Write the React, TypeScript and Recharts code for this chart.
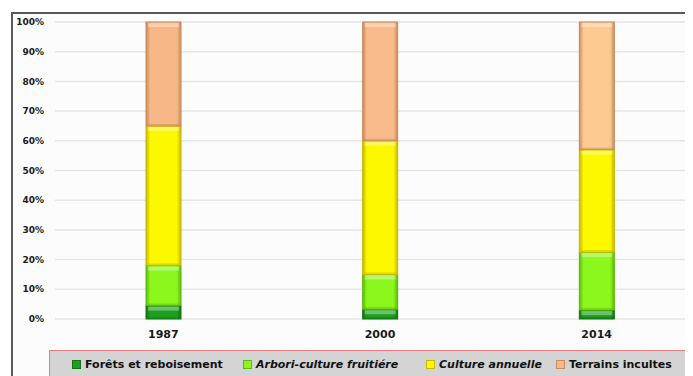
import { BarChart, Bar, XAxis, YAxis, CartesianGrid, Cell } from 'recharts';

const years = ['1987', '2000', '2014'];
const forets = [4.5, 3.3, 3];
const arbori = [13.5, 11.7, 19.5];
const cultureAnnuelle = [47, 45, 34.5];
const terrainsIncultes = [35, 40, 43];
const yTicks = [0, 10, 20, 30, 40, 50, 60, 70, 80, 90, 100];

const series = [
  { key: 'forets', name: 'Forêts et reboisement', color: '#1f9f1f', edge: '#127512', italic: false },
  { key: 'arbori', name: 'Arbori-culture fruitiére', color: '#8cf71c', edge: '#5fb80e', italic: true },
  { key: 'culture', name: 'Culture annuelle', color: '#fbf800', edge: '#c9b800', italic: true },
  { key: 'terrains', name: 'Terrains incultes', color: '#f9b98a', edge: '#c98a5e', italic: false },
];
// the 2014 terrain bar is drawn a bit lighter in the original
const terrainColors = ['#f8b787', '#f9bb8b', '#fdca92'];

const data = years.map((year, i) => ({
  year,
  forets: forets[i],
  arbori: arbori[i],
  culture: cultureAnnuelle[i],
  terrains: terrainsIncultes[i],
}));

const font = '"DejaVu Sans", Verdana, sans-serif';

const BevelBar = (props: any) => {
  const { x, y, width, height, fill, edge } = props;
  if (!height || height <= 0) return null;
  const hl = Math.min(4, height / 2);
  return (
    <g>
      <rect x={x} y={y} width={width} height={height} fill={fill} stroke={edge} strokeWidth={1} />
      <rect x={x + 2} y={y + 1} width={width - 4} height={hl} fill="#ffffff" fillOpacity={0.35} />
      <rect x={x + 1} y={y + height - 2} width={width - 2} height={1.5} fill={edge} fillOpacity={0.5} />
    </g>
  );
};

const legendLeft = [72, 243, 426, 556];

export default function App() {
  return (
    <div style={{ position: 'relative', left: -8, top: -8, width: 693, height: 376, overflow: 'hidden', background: '#ffffff' }}>
      <div
        style={{
          position: 'absolute',
          left: 11,
          top: 12,
          width: 720,
          height: 420,
          borderLeft: '2px solid #5a5a5a',
          borderTop: '2px solid #5a5a5a',
          background: '#fcfcfc',
        }}
      />
      <div style={{ position: 'absolute', left: 0, top: 0 }}>
        <BarChart
          width={720}
          height={376}
          data={data}
          margin={{ top: 22, right: 15, left: 12, bottom: 27 }}
          barSize={35}
        >
          <defs>
            {series.map((s) => (
              <linearGradient key={s.key} id={`g-${s.key}`} x1="0" y1="0" x2="1" y2="0">
                <stop offset="0" stopColor={s.edge} />
                <stop offset="0.12" stopColor={s.color} />
                <stop offset="0.88" stopColor={s.color} />
                <stop offset="1" stopColor={s.edge} />
              </linearGradient>
            ))}
            {terrainColors.map((c, i) => (
              <linearGradient key={i} id={`g-terrains-${i}`} x1="0" y1="0" x2="1" y2="0">
                <stop offset="0" stopColor="#c98a5e" />
                <stop offset="0.12" stopColor={c} />
                <stop offset="0.88" stopColor={c} />
                <stop offset="1" stopColor="#c98a5e" />
              </linearGradient>
            ))}
          </defs>
          <CartesianGrid vertical={false} stroke="#e6e6e6" strokeWidth={1.5} />
          <XAxis
            dataKey="year"
            axisLine={false}
            tickLine={false}
            height={30}
            tickMargin={5}
            tick={{ fontFamily: font, fontSize: 11, fontWeight: 'bold', fill: '#1a1a1a' }}
          />
          <YAxis
            domain={[0, 100]}
            ticks={yTicks}
            width={43}
            axisLine={false}
            tickLine={false}
            tickMargin={5}
            interval={0}
            tickFormatter={(v: number) => `${v}%`}
            tick={{ fontFamily: font, fontSize: 9, fontWeight: 'bold', fill: '#1a1a1a' }}
          />
          {series.map((s) => (
            <Bar
              key={s.key}
              dataKey={s.key}
              name={s.name}
              stackId="a"
              fill={`url(#g-${s.key})`}
              isAnimationActive={false}
              shape={(p: any) => <BevelBar {...p} edge={s.edge} />}
            >
              {s.key === 'terrains'
                ? years.map((y, i) => <Cell key={y} fill={`url(#g-terrains-${i})`} />)
                : null}
            </Bar>
          ))}
        </BarChart>
      </div>
      <div
        style={{
          position: 'absolute',
          left: 49,
          top: 350,
          width: 637,
          height: 40,
          background: '#d4d4d4',
          border: '1.5px solid #e87b7b',
        }}
      />
      {series.map((s, i) => (
        <div
          key={s.key}
          style={{
            position: 'absolute',
            left: legendLeft[i],
            top: 357,
            height: 14,
            display: 'flex',
            alignItems: 'center',
            whiteSpace: 'nowrap',
            fontFamily: font,
            fontSize: 11,
            fontWeight: 'bold',
            fontStyle: s.italic ? 'italic' : 'normal',
            color: '#111',
          }}
        >
          <span
            style={{
              display: 'inline-block',
              width: 7,
              height: 7,
              background: s.color,
              border: `1px solid ${s.edge}`,
              marginRight: 4,
            }}
          />
          {s.name}
        </div>
      ))}
    </div>
  );
}
